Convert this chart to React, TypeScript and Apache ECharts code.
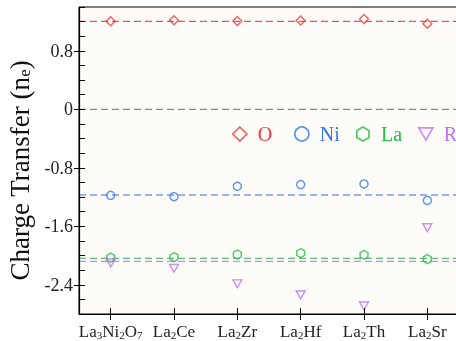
import React, { useEffect, useRef } from "react";
import * as echarts from "echarts";

const categories = ["La3Ni2O7", "La2Ce", "La2Zr", "La2Hf", "La2Th", "La2Sr"];
const oValues = [1.204, 1.22, 1.21, 1.215, 1.235, 1.17];
const niValues = [-1.177, -1.195, -1.053, -1.03, -1.02, -1.246];
const laValues = [-2.028, -2.023, -1.986, -1.968, -1.99, -2.05];
const rValues = [-2.1, -2.175, -2.386, -2.538, -2.69, -1.618];
const refValues = [1.204, 0, -1.172, -2.037, -2.08];
const refColors = ["#f05050", "#888888", "#3a6fd8", "#3aa85a", "#c888ee"];
const yLabelValues = [0.8, 0, -0.8, -1.6, -2.4];

const RED = "#f23a3a";
const BLUE = "#3377ee";
const GREEN = "#1fbf3f";
const PURPLE = "#c070f0";
const BG = "#fdfcf8";
const FONT = "Liberation Serif";

const HEX = "path://M0,-1 L0.866,-0.5 L0.866,0.5 L0,1 L-0.866,0.5 L-0.866,-0.5 Z";
const TRI = "path://M0,0 L10,0 L5,8.66 Z";

const GRID_LEFT = 79;
const GRID_TOP = 7;
const GRID_RIGHT = -3;
const GRID_BOTTOM = 27;
const W = 456;
const H = 341;

function subLabel(v: string) {
  const parts = v.match(/(\d+|\D+)/g) || [];
  return parts.map((p) => (/^\d+$/.test(p) ? `{s|${p}}` : `{m|${p}}`)).join("");
}

export default function App() {
  const ref = useRef<HTMLDivElement>(null);
  useEffect(() => {
    if (!ref.current) return;
    const chart = echarts.init(ref.current, null, { renderer: "svg" });
    const gridW = W - GRID_LEFT - GRID_RIGHT;
    const gridH = H - GRID_TOP - GRID_BOTTOM;
    const mk = (name: string, data: number[], symbol: string, color: string, size: number) => ({
      name,
      type: "scatter",
      xAxisIndex: 0,
      yAxisIndex: 0,
      data,
      symbol,
      symbolSize: size,
      symbolKeepAspect: true,
      z: 5,
      itemStyle: { color: "transparent", borderColor: color, borderWidth: 1.4 },
    });
    const refSeries = refValues.map((v, i) => ({
      name: "ref" + i,
      type: "line",
      xAxisIndex: 2,
      yAxisIndex: 0,
      data: [
        [0, v],
        [1, v],
      ],
      symbol: "none",
      silent: true,
      z: 1,
      lineStyle: { color: refColors[i], type: [7, 4], width: 1.2 },
    }));
    const series: any[] = [
      ...refSeries,
      mk("O", oValues, "diamond", RED, 9),
      mk("Ni", niValues, "circle", BLUE, 8),
      mk("La", laValues, HEX, GREEN, 9),
      mk("R", rValues, TRI, PURPLE, 9),
    ];
    const legendDefs = [
      { name: "O", icon: "diamond", color: RED, left: 227 },
      { name: "Ni", icon: "circle", color: BLUE, left: 289 },
      { name: "La", icon: HEX, color: GREEN, left: 351 },
      { name: "R", icon: TRI, color: PURPLE, left: 413 },
    ];
    const legends = legendDefs.map((d) => ({
      left: d.left,
      top: 119,
      itemWidth: 14,
      itemHeight: 14,
      data: [
        {
          name: d.name,
          icon: d.icon,
          itemStyle: { color: "transparent", borderColor: d.color, borderWidth: 1.7 },
          textStyle: { color: d.color, fontSize: 20, fontFamily: FONT, padding: [0, 0, 0, 6] },
        },
      ],
    }));
    const tickStyle = { color: "#000", width: 1, opacity: 1 };
    chart.setOption({
      animation: false,
      grid: {
        left: GRID_LEFT,
        top: GRID_TOP,
        right: GRID_RIGHT,
        bottom: GRID_BOTTOM,
        containLabel: false,
        outerBoundsMode: "none",
        show: true,
        z: 0,
        backgroundColor: BG,
        borderColor: "#000",
        borderWidth: 1,
      },
      legend: legends,
      xAxis: [
        {
          type: "category",
          data: categories,
          position: "bottom",
          z: 10,
          axisLine: { show: true, onZero: false, lineStyle: { color: "#000", width: 1.2 } },
          axisTick: { show: true, interval: 0, alignWithLabel: true, length: 6, lineStyle: tickStyle },
          axisLabel: {
            show: true,
            interval: 0,
            margin: 7,
            color: "#222",
            formatter: (v: string) => subLabel(v),
            rich: {
              m: { fontSize: 17, fontFamily: FONT, color: "#222", verticalAlign: "bottom", lineHeight: 19 },
              s: { fontSize: 11, fontFamily: FONT, color: "#222", verticalAlign: "bottom", lineHeight: 15 },
            },
          },
          splitLine: { show: false },
        },
        {
          type: "category",
          data: categories,
          position: "top",
          offset: -gridH,
          z: 10,
          axisLine: { show: true, onZero: false, lineStyle: { color: "#000", opacity: 0 } },
          axisTick: { show: true, interval: 0, alignWithLabel: true, length: 6, lineStyle: tickStyle },
          axisLabel: { show: false },
          splitLine: { show: false },
        },
        {
          type: "value",
          min: 0,
          max: 1,
          show: false,
          axisLine: { onZero: false },
        },
      ],
      yAxis: [
        {
          type: "value",
          min: -2.8,
          max: 1.4,
          interval: 0.2,
          position: "left",
          z: 10,
          name: "{a|Charge Transfer (n}{b|e}{a|)}",
          nameLocation: "middle",
          nameGap: 46,
          nameTextStyle: {
            padding: [0, 20, 0, 0],
            rich: {
              a: { fontSize: 27, fontFamily: FONT, color: "#111", verticalAlign: "bottom", lineHeight: 30 },
              b: { fontSize: 17, fontFamily: FONT, color: "#111", verticalAlign: "bottom", lineHeight: 22 },
            },
          },
          axisLine: { show: true, onZero: false, lineStyle: { color: "#000", width: 1.2 } },
          axisTick: { show: true, length: 5, customValues: yLabelValues, lineStyle: tickStyle },
          axisLabel: {
            show: true,
            customValues: yLabelValues,
            fontSize: 18,
            fontFamily: FONT,
            color: "#222",
            margin: 6,
          },
          splitLine: { show: false },
        },
        {
          type: "value",
          min: -2.8,
          max: 1.4,
          interval: 0.2,
          position: "right",
          offset: -gridW,
          z: 10,
          axisLine: { show: true, onZero: false, lineStyle: { color: "#000", opacity: 0 } },
          axisTick: { show: true, length: 6, lineStyle: tickStyle },
          axisLabel: { show: false },
          splitLine: { show: false },
        },
      ],
      series,
    });
    return () => chart.dispose();
  }, []);
  return (
    <div
      ref={ref}
      style={{ position: "fixed", left: 0, top: 0, width: W, height: H }}
    />
  );
}
